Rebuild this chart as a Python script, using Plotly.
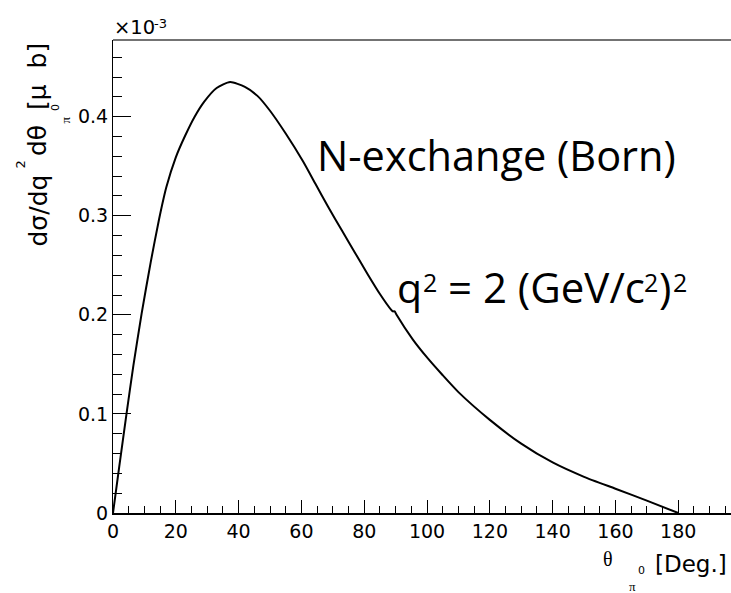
import plotly.graph_objects as go

# ---- data ----
theta_deg = [0, 2, 4.3, 6.5, 9.1, 12, 14.7, 17, 20, 23, 26, 29, 33, 37.3, 42, 46, 50,
             55, 60.5, 64.5, 68.5, 73, 77, 81, 85, 88.6, 89.1, 89.7, 90.3, 95.5, 100,
             105, 110, 120, 130, 140, 150, 160, 170, 180]
xsec_e3 = [0, 0.047, 0.100, 0.149, 0.201, 0.253, 0.297, 0.329, 0.359, 0.381, 0.400,
           0.415, 0.429, 0.435, 0.430, 0.421, 0.406, 0.383, 0.355, 0.332, 0.309, 0.2845,
           0.263, 0.2415, 0.221, 0.205, 0.2035, 0.2035, 0.200, 0.175, 0.157, 0.139,
           0.122, 0.094, 0.070, 0.051, 0.0365, 0.0245, 0.0125, 0]

x_range = [0, 196.8]
y_range = [0, 0.4774]
x_major, x_minor = 20, 5
y_major, y_minor = 0.1, 0.02

label_born = "N-exchange (Born)"

# ---- layout geometry ----
FW, FH = 731, 593
L, R, T, B = 113, 0, 40, 80
W, H = FW - L - R, FH - T - B


def px(x):
    return (x - L) / W


def py(y):
    return (T + H - y) / H


fig = go.Figure()
fig.add_trace(go.Scatter(x=theta_deg, y=xsec_e3, mode="lines",
                         line=dict(color="black", width=2, shape="spline", smoothing=0.6),
                         hoverinfo="skip", showlegend=False))

tickfont = dict(family="DejaVu Sans", size=19, color="black")

fig.update_xaxes(range=x_range, tick0=0, dtick=x_major, ticks="inside", ticklen=13,
                 tickwidth=1, tickcolor="black", showgrid=False, zeroline=False,
                 showline=True, linecolor="black", linewidth=2, tickfont=tickfont,
                 minor=dict(dtick=x_minor, ticks="inside", ticklen=7, tickwidth=1,
                            tickcolor="black", showgrid=False))
fig.update_yaxes(range=y_range, tick0=0, dtick=y_major, ticks="inside", ticklen=18,
                 tickwidth=1, tickcolor="black", showgrid=False, zeroline=False,
                 showline=True, linecolor="black", linewidth=1, tickfont=tickfont,
                 minor=dict(dtick=y_minor, ticks="inside", ticklen=9, tickwidth=1,
                            tickcolor="black", showgrid=False))

# top frame line
fig.add_shape(type="line", xref="paper", yref="paper", x0=0, x1=1, y0=1, y1=1,
              line=dict(color="#444", width=1.3))

ann = []


def text(t, x, y, xa, ya, size, family="DejaVu Sans", angle=0):
    ann.append(dict(text=t, x=px(x), y=py(y), xref="paper", yref="paper",
                    xanchor=xa, yanchor=ya, showarrow=False, textangle=angle,
                    font=dict(family=family, size=size, color="black")))


# exponent label
text("×10", 112, 41, "left", "bottom", 19.5)
text("-3", 152, 33, "left", "bottom", 13)

# in-plot labels
text(label_born, 315, 185, "left", "bottom", 41.5, family="Open Sans")
# q^2 = 2 (GeV/c^2)^2 built from pieces so superscripts match the reference
text("q", 395, 317, "left", "bottom", 41, family="Open Sans")
text("2", 421, 301, "left", "bottom", 25, family="Open Sans")
text("= 2 (GeV/c", 446, 317, "left", "bottom", 42, family="Open Sans")
text("2", 642, 301, "left", "bottom", 25, family="Open Sans")
text(")", 657, 317, "left", "bottom", 42, family="Open Sans")
text("2", 671, 301, "left", "bottom", 25, family="Open Sans")

# x-axis title pieces
text("θ", 601, 572, "left", "bottom", 20, family="Liberation Serif")
text("π", 627, 596, "left", "bottom", 13, family="Liberation Serif")
text("0", 636, 578.5, "left", "bottom", 11)
text("[Deg.]", 729, 579, "right", "bottom", 23)

# y-axis title pieces (rotated)
text("dσ/dq", 54, 249, "right", "bottom", 25, angle=-90)
text("2", 29, 171, "right", "bottom", 13, angle=-90)
text("dθ", 54, 158, "right", "bottom", 25, angle=-90)
text("0", 64.5, 108, "right", "middle", 11, angle=-90)
text("π", 74, 120, "right", "middle", 13, family="Liberation Serif", angle=-90)
text("[μ\u00a0\u00a0b]", 54, 41, "right", "top", 25, angle=-90)

fig.update_layout(width=FW, height=FH, margin=dict(l=L, r=R, t=T, b=B, autoexpand=False),
                  paper_bgcolor="white", plot_bgcolor="white", annotations=ann,
                  showlegend=False)

fig.write_html("out.html", config={"displayModeBar": False},
               post_script="document.body.style.margin='0';"
                           "document.body.style.overflow='hidden';")
